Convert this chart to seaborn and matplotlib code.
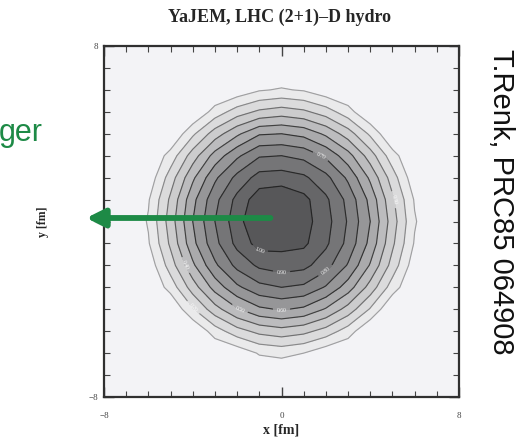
import numpy as np
import matplotlib
matplotlib.use("Agg")
import matplotlib.pyplot as plt
import matplotlib.patheffects as pe
import seaborn as sns

# Transverse grid [fm] on which the vertex density is tabulated
x_fm = [-7, -6, -5, -4, -3, -2, -1, 0, 1, 2, 3, 4, 5, 6, 7]
y_fm = [-7, -6, -5, -4, -3, -2, -1, 0, 1, 2, 3, 4, 5, 6, 7]

# Vertex density, rows run from y = -7 (first) to y = +7 (last)
density = [
    [0, 0, 0, 0, 0, 0, 0, 0, 0, 0, 0, 0, 0, 0, 0],
    [0, 0, 0, 0, 0, 0.03, 0.11, 0.13, 0.10, 0.03, 0, 0, 0, 0, 0],
    [0, 0, 0, 0, 0.15, 0.26, 0.33, 0.36, 0.33, 0.26, 0.15, 0, 0, 0, 0],
    [0, 0, 0, 0.19, 0.36, 0.49, 0.58, 0.61, 0.58, 0.49, 0.36, 0.19, 0, 0, 0],
    [0, 0, 0.14, 0.35, 0.54, 0.68, 0.77, 0.80, 0.78, 0.69, 0.55, 0.36, 0.15, 0, 0],
    [0, 0.03, 0.25, 0.48, 0.68, 0.83, 0.92, 0.95, 0.93, 0.84, 0.69, 0.49, 0.26, 0.04, 0],
    [0, 0.09, 0.32, 0.57, 0.77, 0.93, 1.04, 1.03, 1.02, 0.92, 0.77, 0.57, 0.32, 0.09, 0],
    [0, 0.11, 0.35, 0.60, 0.80, 0.96, 1.10, 1.15, 1.04, 0.94, 0.79, 0.60, 0.35, 0.11, 0],
    [0, 0.09, 0.32, 0.57, 0.77, 0.93, 1.06, 1.08, 1.03, 0.92, 0.77, 0.57, 0.32, 0.09, 0],
    [0, 0.03, 0.25, 0.48, 0.68, 0.83, 0.94, 0.95, 0.92, 0.83, 0.68, 0.48, 0.25, 0.03, 0],
    [0, 0, 0.14, 0.35, 0.54, 0.68, 0.79, 0.80, 0.77, 0.68, 0.54, 0.35, 0.14, 0, 0],
    [0, 0, 0, 0.18, 0.35, 0.48, 0.59, 0.60, 0.57, 0.48, 0.35, 0.18, 0, 0, 0],
    [0, 0, 0, 0, 0.14, 0.25, 0.32, 0.35, 0.32, 0.25, 0.14, 0, 0, 0, 0],
    [0, 0, 0, 0, 0, 0.03, 0.09, 0.11, 0.09, 0.03, 0, 0, 0, 0, 0],
    [0, 0, 0, 0, 0, 0, 0, 0, 0, 0, 0, 0, 0, 0, 0],
]

# Contour levels of the density
levels = [0.1, 0.2, 0.3, 0.4, 0.5, 0.6, 0.7, 0.8, 0.9, 1.0]

title = "YaJEM, LHC (2+1)\u2013D hydro"
ref_text = "T.Renk, PRC85 064908"
side_word = "ger"
green = "#1d8a46"

sns.set_theme(style="ticks")
plt.rcParams["font.family"] = ["Liberation Serif", "DejaVu Serif"]

fig = plt.figure(figsize=(5.28, 4.43), dpi=100)
ax = fig.add_axes([104 / 528, 1 - 397 / 443, 355 / 528, 351 / 443])
ax.set_facecolor("#f3f3f6")

X, Y = np.meshgrid(x_fm, y_fm)
Z = np.array(density)

fill_cols = sns.blend_palette(["#eaeaeb", "#bcbcbe", "#848486", "#575759"], len(levels))
ax.contourf(X, Y, Z, levels=levels + [1.3], colors=fill_cols)
line_cols = sns.blend_palette(["#a0a0a2", "#353535", "#252525"], len(levels))
cs = ax.contour(X, Y, Z, levels=levels, colors=line_cols, linewidths=0.85)
ax.clabel(cs, levels=levels[1:], fmt="%.2f", fontsize=4, colors="white", inline=True)

ax.set_xlim(-8, 8)
ax.set_ylim(-8, 8)
ax.set_xticks([-8, 0, 8])
ax.set_yticks([-8, 8])
ax.set_xticklabels(["\u22128", "0", "8"])
ax.set_yticklabels(["\u22128", "8"])
ax.set_xticks(np.arange(-8, 9, 1), minor=True)
ax.set_yticks(np.arange(-8, 9, 1), minor=True)
ax.tick_params(which="both", direction="in", top=True, right=True,
               colors="#444444", labelsize=6.5)
ax.tick_params(axis="x", which="major", pad=11)
ax.tick_params(axis="y", which="major", pad=4)
ax.tick_params(which="major", length=7, width=1.0)
ax.tick_params(which="minor", length=4, width=0.8)
for sp in ax.spines.values():
    sp.set_color("#303030")
    sp.set_linewidth(1.6)

ax.set_xlabel("x [fm]", fontsize=10, fontweight="bold", labelpad=2)
ax.set_ylabel("y [fm]", fontsize=8.5, fontweight="bold", labelpad=29)
fig.text(280 / 528, 1 - 17 / 443, title, ha="center", va="center",
         fontsize=13, fontweight="bold")

# Trigger direction arrow
ax.annotate("", xy=(-8.8, 0.16), xytext=(-0.5, 0.16), annotation_clip=False,
            arrowprops=dict(arrowstyle="-|>,head_length=0.9,head_width=0.45",
                            color=green, lw=4.2, shrinkA=0, shrinkB=0,
                            path_effects=[pe.withSimplePatchShadow(offset=(1, -3),
                                                                   shadow_rgbFace="#808080",
                                                                   alpha=0.35)]),
            zorder=5)

fig.text(43 / 528, 1 - 133 / 443, side_word, ha="right", va="center",
         fontsize=22, color=green, family=["Liberation Sans", "DejaVu Sans"])
fig.text(501 / 528, 1 - 49 / 443, ref_text, ha="center", va="top", rotation=270,
         fontsize=21, color="#111111", family=["Liberation Sans", "DejaVu Sans"])

fig.savefig("out.png", dpi=100, facecolor="white")
